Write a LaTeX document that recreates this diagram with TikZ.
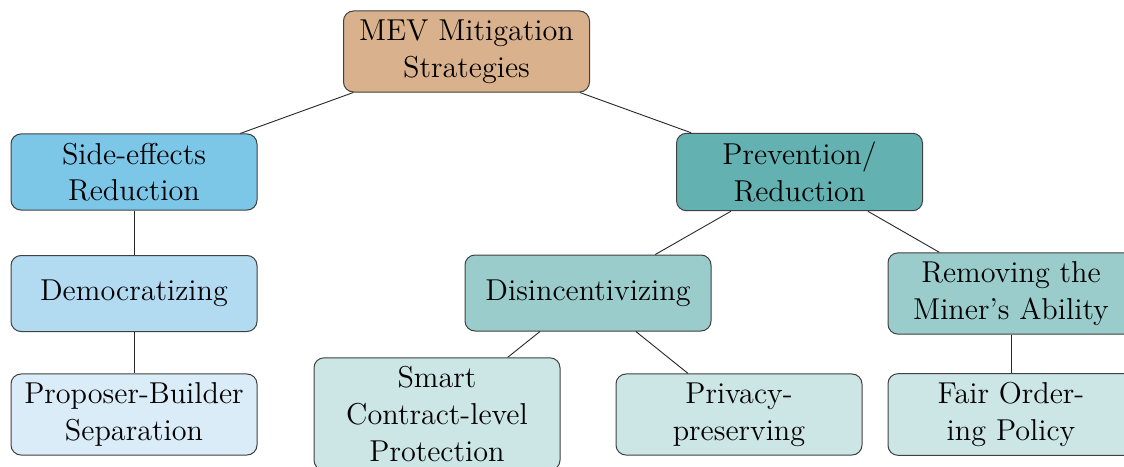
\documentclass[tikz,border=0pt]{standalone}
\usepackage{fontspec}
\usepackage{xcolor}
% twelve-point design of Latin Modern, used at any size
\newfontfamily\boxfont{lmroman12-regular.otf}[Ligatures=TeX]
\definecolor{rootc}{RGB}{217,177,140}
\definecolor{sidec}{RGB}{124,199,231}
\definecolor{prevc}{RGB}{100,177,177}
\definecolor{democ}{RGB}{178,218,241}
\definecolor{disc}{RGB}{155,204,204}
\definecolor{pbsc}{RGB}{218,236,248}
\definecolor{leafc}{RGB}{204,229,229}
\begin{document}
\begin{tikzpicture}[x=0.5pt,y=-0.5pt,
  box/.style={draw=black!75, line width=0.5pt, rounded corners=5pt,
    minimum width=123pt, minimum height=38pt, inner sep=4.4pt,
    align=center, font=\boxfont\fontsize{15.1}{18.3}\selectfont},
  edge/.style={draw=black!85, line width=0.45pt}]
\useasboundingbox (0,0) rectangle (1124,466);
\clip (0,0) rectangle (1124,466);

% level 0
\node[box, fill=rootc] (root) at (466.5,51.5) {MEV Mitigation\\Strategies};
% level 1
\node[box, fill=sidec] (side) at (134,172) {Side-effects\\Reduction};
\node[box, fill=prevc] (prev) at (799.5,172) {Prevention/\\Reduction};
% level 2
\node[box, fill=democ] (demo) at (134,293.5) {Democratizing};
\node[box, fill=disc] (dis) at (588,293) {Disincentivizing};
\node[box, fill=disc] (rem) at (1011,293.5) {Removing the\\Miner's Ability};
% level 3
\node[box, fill=pbsc] (pbs) at (134,414.5) {Proposer-Builder\\Separation};
\node[box, fill=leafc] (smart) at (437,414) {Smart\\Contract-level\\Protection};
\node[box, fill=leafc] (priv) at (739,414.5) {Privacy-\\preserving};
\node[box, fill=leafc] (fair) at (1011,414.5) {Fair Order-\\ing Policy};

% connectors
\draw[edge] (root) -- (side);
\draw[edge] (root) -- (prev);
\draw[edge] (side) -- (demo);
\draw[edge] (demo) -- (pbs);
\draw[edge] (prev) -- (dis);
\draw[edge] (prev) -- (rem);
\draw[edge] (dis) -- (smart);
\draw[edge] (dis) -- (priv);
\draw[edge] (rem) -- (fair);
\end{tikzpicture}
\end{document}
